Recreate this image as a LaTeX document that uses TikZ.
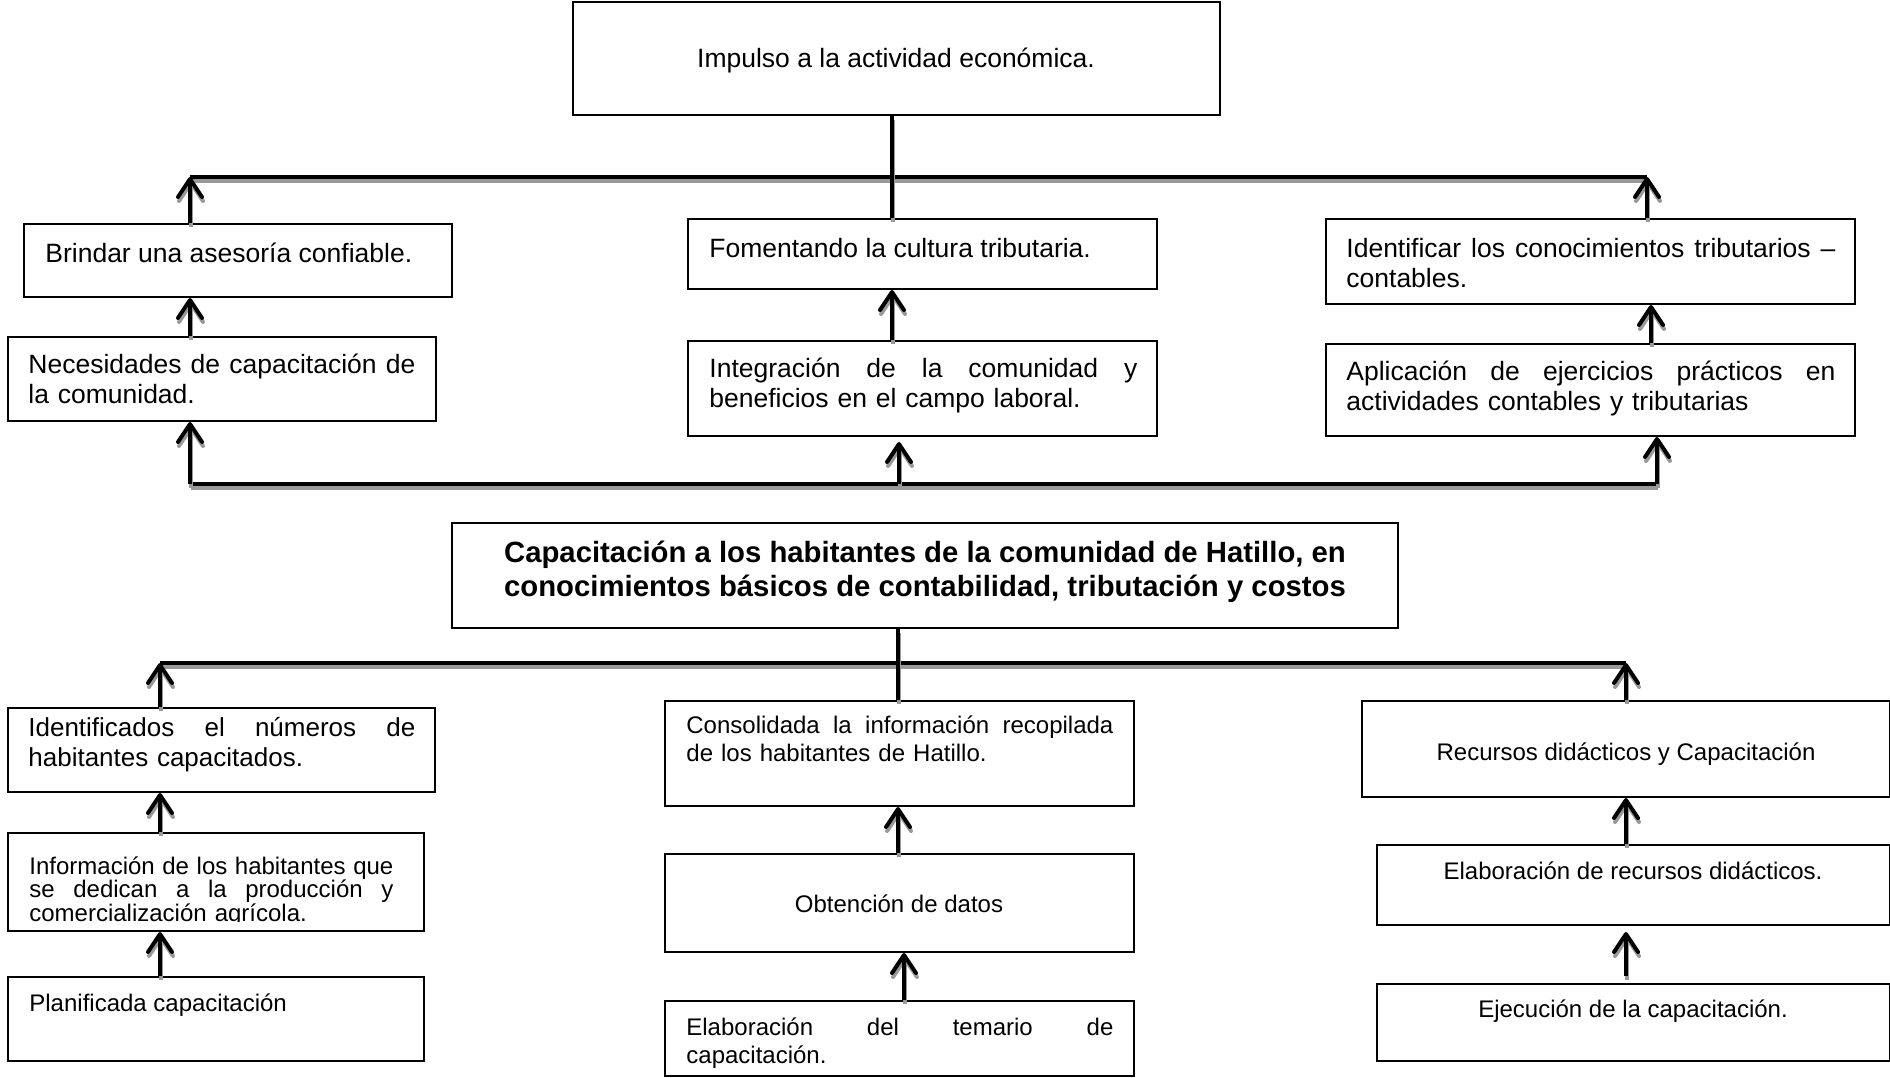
\documentclass[tikz,border=0pt]{standalone}
\usepackage{fontspec}
\setmainfont{Liberation Sans}
\usetikzlibrary{arrows.meta}
\tikzset{
  boxst/.style={draw=black, line width=1pt, inner sep=0pt, rectangle},
  txt/.style={inner sep=0pt, anchor=base west, align=left},
  ctxt/.style={inner sep=0pt, anchor=base},
  arr/.style={line width=2pt, -{Straight Barb[length=9pt,width=12pt,round]}},
  barst/.style={line width=2.2pt},
  shadowst/.style={draw=black!40, transform canvas={shift={(0.5pt,-2pt)}}},
}
\newcommand\fT{\fontsize{13.25pt}{15pt}\selectfont}
\newcommand\fB{\fontsize{12pt}{14pt}\selectfont}
\newcommand\bx[5]{\node[boxst, minimum width={(#4-#2)*0.5pt}, minimum height={(#5-#3)*0.5pt}] (#1) at ({(#2+#4)/2},{(#3+#5)/2}) {};}
\newcommand\jl[2]{\leavevmode\hbox to #1{\spaceskip=.28em plus 20em\relax\xspaceskip=\spaceskip #2}}
\newcommand\conn[2]{\draw[arr,shadowst] (#1) -- (#2); \draw[arr] (#1) -- (#2);}
\newcommand\barln[2]{\draw[barst,shadowst] (#1) -- (#2); \draw[barst] (#1) -- (#2);}
\begin{document}
\begin{tikzpicture}[x=0.5pt, y=-0.5pt]
\useasboundingbox (0,0) rectangle (1890,1077);
\fill[white] (0,0) rectangle (1890,1077);

% ---------- top half boxes ----------
\bx{top}{573}{2}{1220}{115}
\bx{brindar}{24}{224}{452}{297}
\bx{neces}{8}{337}{436}{421}
\bx{foment}{688}{219}{1157}{289}
\bx{integ}{688}{341}{1157}{436}
\bx{ident}{1326}{219}{1855}{304}
\bx{aplic}{1326}{344}{1855}{436}

\node[ctxt, font=\fT] (t-top) at (896,67) {Impulso a la actividad económica.};
\node[txt, font=\fT] (t-brindar) at (45,262) {Brindar una asesoría confiable.};
\node[txt, font=\fT, text width=193.5pt] (t-neces) at (28,373) {\jl{193.5pt}{Necesidades de capacitación de}\\la comunidad.};
\node[txt, font=\fT] (t-foment) at (709,257) {Fomentando la cultura tributaria.};
\node[txt, font=\fT, text width=214pt] (t-integ) at (709,377) {\jl{214pt}{Integración de la comunidad y}\\beneficios en el campo laboral.};
\node[txt, font=\fT, text width=244.5pt] (t-ident) at (1346,257) {\jl{244.5pt}{Identificar los conocimientos tributarios –}\\contables.};
\node[txt, font=\fT, text width=244.5pt] (t-aplic) at (1346,380) {\jl{244.5pt}{Aplicación de ejercicios prácticos en}\\actividades contables y tributarias};

% ---------- top half connectors ----------
\coordinate (ub-l) at (190,177);
\coordinate (ub-m) at (892,177);
\coordinate (ub-r) at (1647,177);
\coordinate (lb-l) at (190,484);
\coordinate (lb-m) at (899,484);
\coordinate (lb-r) at (1657,484);

\barln{ub-l}{ub-r}
\barln{top.south -| ub-m}{foment.north -| ub-m}
\conn{brindar.north -| ub-l}{ub-l}
\conn{ident.north -| ub-r}{ub-r}
\conn{neces.north -| ub-l}{brindar.south -| ub-l}
\conn{integ.north -| ub-m}{foment.south -| ub-m}
\conn{aplic.north -| 1651,0}{ident.south -| 1651,0}

\barln{lb-l}{lb-r}
\conn{lb-l}{neces.south -| lb-l}
\conn{lb-m}{899,442}
\conn{lb-r}{aplic.south -| lb-r}

% ---------- bottom half boxes ----------
\bx{title}{452}{523}{1398}{628}
\bx{identif}{8}{708}{435}{792}
\bx{info}{8}{833}{424}{931}
\bx{planif}{8}{977}{424}{1061}
\bx{consol}{665}{701}{1134}{806}
\bx{obten}{665}{854}{1134}{952}
\bx{elabt}{665}{1001}{1134}{1076}
\bx{recur}{1362}{701}{1890}{797}
\bx{elabr}{1377}{845}{1890}{925}
\bx{ejec}{1377}{984}{1890}{1061}

\node[ctxt, font=\bfseries\fontsize{14.65pt}{17pt}\selectfont, align=center] (t-title) at (925,596)
  {Capacitación a los habitantes de la comunidad de Hatillo, en\\conocimientos básicos de contabilidad, tributación y costos};
\node[txt, font=\fontsize{13pt}{15pt}\selectfont, text width=193.5pt] (t-identif) at (28,736) {\jl{193.5pt}{Identificados el números de}\\habitantes capacitados.};
\begin{scope}
\clip (0,833) rectangle (424,921);
\node[txt, font=\fontsize{12pt}{11.75pt}\selectfont, text width=182pt] (t-info) at (29,874) {\jl{182pt}{Información de los habitantes que}\\\jl{182pt}{se dedican a la producción y}\\comercialización agrícola.};
\end{scope}
\node[txt, font=\fB] (t-planif) at (29,1011) {Planificada capacitación};
\node[txt, font=\fB, text width=213.5pt] (t-consol) at (686,733) {\jl{213.5pt}{Consolidada la información recopilada}\\de los habitantes de Hatillo.};
\node[ctxt, font=\fB] (t-obten) at (899,912) {Obtención de datos};
\node[txt, font=\fB, text width=213.5pt] (t-elabt) at (686,1035) {\jl{213.5pt}{Elaboración del temario de}\\capacitación.};
\node[ctxt, font=\fB] (t-recur) at (1626,760) {Recursos didácticos y Capacitación};
\node[ctxt, font=\fB] (t-elabr) at (1633,879) {Elaboración de recursos didácticos.};
\node[ctxt, font=\fB] (t-ejec) at (1633,1017) {Ejecución de la capacitación.};

% ---------- bottom half connectors ----------
\coordinate (bb-l) at (160,663);
\coordinate (bb-m) at (898,663);
\coordinate (bb-r) at (1626,663);

\barln{bb-l}{bb-r}
\barln{title.south -| bb-m}{consol.north -| bb-m}
\conn{identif.north -| bb-l}{bb-l}
\conn{recur.north -| bb-r}{bb-r}
\conn{info.north -| bb-l}{identif.south -| bb-l}
\conn{planif.north -| bb-l}{info.south -| bb-l}
\conn{obten.north -| bb-m}{consol.south -| bb-m}
\conn{elabt.north -| 904,0}{obten.south -| 904,0}
\conn{elabr.north -| bb-r}{recur.south -| bb-r}
\conn{1626,976}{1626,932}
\end{tikzpicture}
\end{document}
